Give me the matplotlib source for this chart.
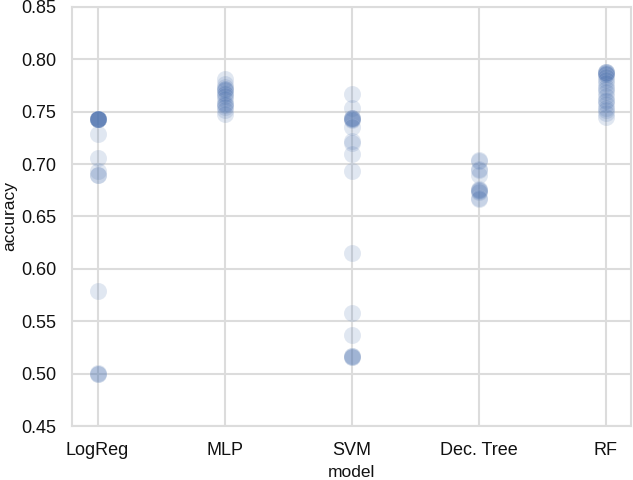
import matplotlib
matplotlib.use("Agg")
import matplotlib.pyplot as plt
import seaborn as sns

# accuracy per run
models = ["LogReg", "MLP", "SVM", "Dec. Tree", "RF"]
logreg = [0.743] * 10 + [0.729, 0.706, 0.693, 0.690, 0.690, 0.579, 0.501, 0.500, 0.500]
mlp = [0.781, 0.776, 0.773, 0.772, 0.772, 0.771, 0.768, 0.767, 0.765, 0.762,
       0.758, 0.757, 0.756, 0.754, 0.752, 0.748]
svm = [0.767, 0.753, 0.744, 0.744, 0.744, 0.743, 0.743, 0.742, 0.735, 0.722,
       0.720, 0.710, 0.693, 0.615, 0.558, 0.537, 0.517, 0.517, 0.516, 0.516]
dtree = [0.704, 0.703, 0.695, 0.694, 0.690, 0.676, 0.675, 0.675, 0.674, 0.673,
         0.668, 0.667]
rf = [0.788, 0.788, 0.788, 0.787, 0.787, 0.786, 0.786, 0.783, 0.780, 0.777,
      0.773, 0.772, 0.769, 0.765, 0.761, 0.760, 0.757, 0.753, 0.752,
      0.749, 0.745]

sns.set_style("whitegrid")
plt.rcParams['font.family'] = ['Liberation Sans', 'DejaVu Sans']
plt.rcParams['text.color'] = '#111111'
plt.rcParams['axes.labelcolor'] = '#111111'
plt.rcParams['xtick.color'] = '#111111'
plt.rcParams['ytick.color'] = '#111111'

fig, ax = plt.subplots(figsize=(6.33, 4.8), dpi=100)
fig.subplots_adjust(left=0.114, right=0.997, bottom=0.112, top=0.986)

for name, vals in zip(models, [logreg, mlp, svm, dtree, rf]):
    ax.scatter([name] * len(vals), vals, s=150, color="#4c72b0", alpha=0.17,
               edgecolors="white", linewidths=0.3, zorder=3)

ax.set_ylim(0.45, 0.85)
ax.set_xlim(-0.2, 4.2)
ax.grid(color="#dcdcdc", linewidth=1.5)
ax.set_xlabel("model", fontsize=12.5)
ax.set_ylabel("accuracy", fontsize=12.5, labelpad=3)
ax.tick_params(labelsize=13, pad=8)
for sp in ax.spines.values():
    sp.set_color("#dcdcdc")
    sp.set_linewidth(1.5)

fig.savefig("out.png")
